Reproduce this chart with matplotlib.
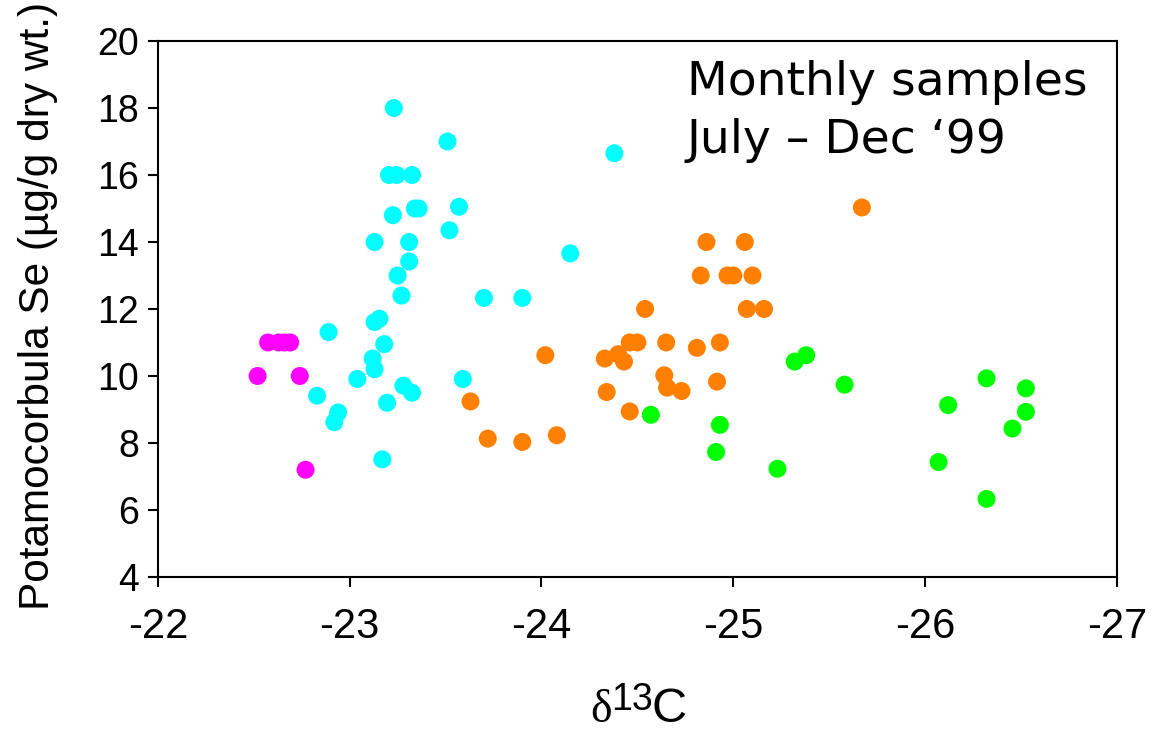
import matplotlib
matplotlib.use('Agg')
import matplotlib.pyplot as plt

# d13C (x) and Se (y) per monthly group
magenta_x = [-22.52, -22.575, -22.63, -22.66, -22.69, -22.74, -22.77]
magenta_y = [10.0, 11.0, 11.0, 11.0, 11.0, 10.0, 7.2]

cyan_x = [-23.23, -23.51, -23.205, -23.245, -23.325, -23.34, -23.36, -23.57,
          -23.225, -23.52, -23.13, -23.31, -23.31, -23.25, -23.27, -23.70,
          -23.90, -24.15, -24.38, -23.155, -23.13, -22.89, -23.18, -23.12,
          -23.13, -23.04, -23.59, -23.28, -23.325, -22.83, -23.195, -22.94,
          -22.92, -23.17]
cyan_y = [18.0, 17.0, 16.0, 16.0, 16.0, 15.0, 15.0, 15.05,
          14.8, 14.35, 14.0, 14.0, 13.42, 13.0, 12.4, 12.33,
          12.33, 13.66, 16.65, 11.71, 11.61, 11.31, 10.95, 10.52,
          10.2, 9.91, 9.91, 9.71, 9.5, 9.41, 9.2, 8.91,
          8.62, 7.51]

orange_x = [-24.86, -25.06, -24.83, -24.97, -25.0, -25.10, -24.54, -25.07,
            -25.16, -24.46, -24.50, -24.65, -24.93, -24.81, -24.02, -24.33,
            -24.40, -24.43, -24.64, -24.655, -24.73, -24.915, -24.34, -23.63,
            -24.46, -23.72, -23.90, -24.08, -25.67]
orange_y = [14.0, 14.0, 13.0, 13.0, 13.0, 13.0, 12.0, 12.0,
            12.0, 11.0, 11.0, 11.0, 11.0, 10.84, 10.62, 10.52,
            10.65, 10.43, 10.02, 9.65, 9.55, 9.83, 9.52, 9.24,
            8.94, 8.13, 8.03, 8.23, 15.03]

green_x = [-25.32, -25.38, -25.58, -24.57, -24.93, -24.91, -25.23, -26.07,
           -26.12, -26.32, -26.525, -26.525, -26.455, -26.32]
green_y = [10.43, 10.62, 9.74, 8.84, 8.54, 7.73, 7.23, 7.43,
           9.13, 9.93, 9.63, 8.93, 8.43, 6.33]

x_ticks = [-22, -23, -24, -25, -26, -27]
y_ticks = [4, 6, 8, 10, 12, 14, 16, 18, 20]

plt.rcParams['font.family'] = ['Liberation Sans', 'DejaVu Sans']

W, H = 1152, 734
fig = plt.figure(figsize=(W / 100, H / 100), dpi=100)
ax = fig.add_axes([0.137, 0.214, 0.8326, 0.7301])

for xs, ys, col in [(magenta_x, magenta_y, '#ff00ff'),
                    (cyan_x, cyan_y, '#00ffff'),
                    (orange_x, orange_y, '#ff8000'),
                    (green_x, green_y, '#00ff00')]:
    ax.scatter(xs, ys, s=168, color=col, edgecolors='none', zorder=3, clip_on=False)

ax.set_xlim(-22, -27)
ax.set_ylim(4, 20)
ax.set_xticks(x_ticks)
ax.set_xticklabels([str(t) for t in x_ticks], fontsize=30)
ax.set_yticks(y_ticks)
ax.set_yticklabels([str(t) for t in y_ticks], fontsize=27)
ax.tick_params(direction='out', length=7.5, width=1.5, pad=14)
ax.tick_params(axis='y', pad=6)
for sp in ax.spines.values():
    sp.set_linewidth(1.5)

ax.set_ylabel('Potamocorbula Se (µg/g dry wt.)', fontsize=30.5)
ax.yaxis.set_label_coords(-0.104, 0.505)

# x label: delta, superscript 13, C
fig.text(590 / W, 1 - 722 / H, '\u03b4', fontsize=33, family='Liberation Serif',
         ha='left', va='baseline')
fig.text(611 / W, 1 - 710 / H, '13', fontsize=27, ha='left', va='baseline')
fig.text(651 / W, 1 - 722 / H, 'C', fontsize=35, ha='left', va='baseline')

ax.text(0.5516, 0.899, 'Monthly samples', transform=ax.transAxes,
        ha='left', va='baseline', fontsize=34, family='DejaVu Sans')
ax.text(0.5516, 0.791, 'July \u2013 Dec \u201899', transform=ax.transAxes,
        ha='left', va='baseline', fontsize=34, family='DejaVu Sans')

fig.savefig('out.png', dpi=100)
